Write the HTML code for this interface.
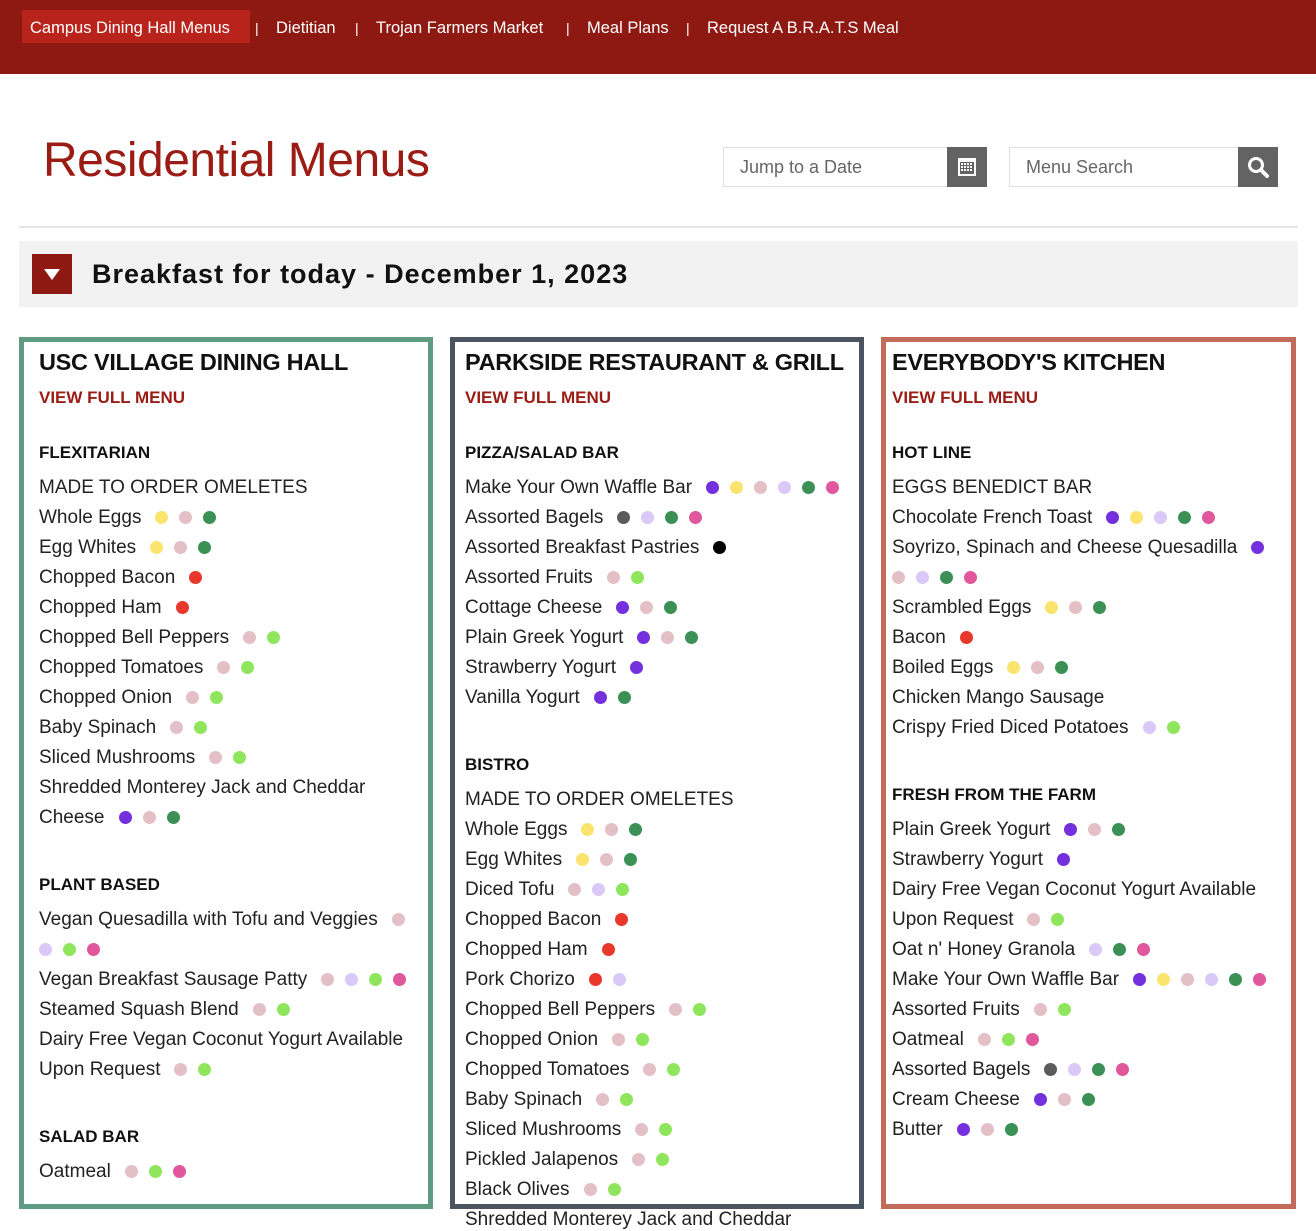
<!DOCTYPE html>
<html><head><meta charset="utf-8">
<style>
*{box-sizing:border-box;margin:0;padding:0}
body{width:1316px;height:1230px;overflow:hidden;background:#fff;font-family:"Liberation Sans",sans-serif;position:relative;color:#111}
.nav{position:absolute;left:0;top:0;width:1316px;height:74px;background:#8e1912}
.nav a{position:absolute;top:10px;height:33px;line-height:37px;color:#fff;font-size:16.5px;text-decoration:none;white-space:nowrap}
.sep{position:absolute;top:10px;line-height:37px;color:#fff;font-size:14px}
.title{position:absolute;left:43px;top:133px;font-size:48px;color:#9a1c14;font-weight:normal;letter-spacing:-0.5px}
.inp{position:absolute;top:147px;height:40px;border:1px solid #ddd;background:#fff;font-size:18px;color:#666;line-height:38px;padding-left:16px}
.btn{position:absolute;top:147px;width:40px;height:40px;background:#636363}
.hr{position:absolute;left:19px;top:226px;width:1279px;height:2px;background:#e3e3e3}
.band{position:absolute;left:19px;top:241px;width:1279px;height:66px;background:#f2f2f2}
.tog{position:absolute;left:32px;top:254px;width:40px;height:40px;background:#8e1912}
.tog:after{content:"";position:absolute;left:12px;top:15px;border-left:8px solid transparent;border-right:8px solid transparent;border-top:11px solid #fff}
.bh{position:absolute;left:92px;top:259px;font-size:27px;font-weight:bold;letter-spacing:1px;color:#111}
.col{position:absolute;top:337px;height:872px;border:5px solid}
.ln{position:absolute;white-space:nowrap;font-size:19px;color:#222;line-height:22px}
.ct{font-size:23.5px;font-weight:bold;color:#111;letter-spacing:-0.3px}
.vf{font-size:17px;font-weight:bold;color:#9a1c14}
.sh{font-size:17px;font-weight:bold;color:#111}
.dot{display:inline-block;width:13px;height:13px;border-radius:50%;margin-left:11px;vertical-align:-1px}
.dot:first-child{margin-left:14px}
</style></head><body>
<div class="nav">
<a style="left:22px;width:228px;background:#b8241c;padding-left:8px;line-height:33px;top:10px;padding-top:2px">Campus Dining Hall Menus</a>
<span class="sep" style="left:255px">|</span>
<a style="left:276px">Dietitian</a>
<span class="sep" style="left:355px">|</span>
<a style="left:376px">Trojan Farmers Market</a>
<span class="sep" style="left:566px">|</span>
<a style="left:587px">Meal Plans</a>
<span class="sep" style="left:686px">|</span>
<a style="left:707px">Request A B.R.A.T.S Meal</a>
</div>
<div class="title">Residential Menus</div>
<div class="inp" style="left:723px;width:264px">Jump to a Date</div>
<div class="btn" style="left:947px">
<svg width="40" height="40"><rect x="11" y="11" width="18" height="18" fill="#fff"/><rect x="13" y="15" width="14" height="12" fill="#636363"/><g fill="#fff"><rect x="14" y="16" width="2" height="2"/><rect x="17" y="16" width="2" height="2"/><rect x="20" y="16" width="2" height="2"/><rect x="23" y="16" width="2" height="2"/><rect x="14" y="19" width="2" height="2"/><rect x="17" y="19" width="2" height="2"/><rect x="20" y="19" width="2" height="2"/><rect x="23" y="19" width="2" height="2"/><rect x="14" y="22" width="2" height="2"/><rect x="17" y="22" width="2" height="2"/><rect x="20" y="22" width="2" height="2"/><rect x="23" y="22" width="2" height="2"/></g></svg></div>
<div class="inp" style="left:1009px;width:269px">Menu Search</div>
<div class="btn" style="left:1238px">
<svg width="40" height="40"><circle cx="18" cy="18" r="6.5" fill="none" stroke="#fff" stroke-width="3"/><line x1="23" y1="23" x2="29" y2="29" stroke="#fff" stroke-width="4" stroke-linecap="round"/></svg></div>
<div class="hr"></div>
<div class="band"></div>
<div class="tog"></div>
<div class="bh">Breakfast for today - December 1, 2023</div>
<div class="col" style="left:19px;width:414px;border-color:#5f9a82"></div>
<div class="col" style="left:450px;width:414px;border-color:#4a5561"></div>
<div class="col" style="left:881px;width:415px;border-color:#c26b5b"></div>
<script>
const C={P:'#7430dc',Y:'#fbe46e',S:'#e3bfc6',L:'#d9c8f8',N:'#3b9155',K:'#e0579b',R:'#e8382b',M:'#8fe65c',D:'#5b5b5b',B:'#000'};
const col1=[['t','USC VILLAGE DINING HALL'],['v','VIEW FULL MENU'],['h','FLEXITARIAN'],['i','MADE TO ORDER OMELETES',''],['i','Whole Eggs','YSN'],['i','Egg Whites','YSN'],['i','Chopped Bacon','R'],['i','Chopped Ham','R'],['i','Chopped Bell Peppers','SM'],['i','Chopped Tomatoes','SM'],['i','Chopped Onion','SM'],['i','Baby Spinach','SM'],['i','Sliced Mushrooms','SM'],['i','Shredded Monterey Jack and Cheddar',''],['i','Cheese','PSN'],['h','PLANT BASED'],['i','Vegan Quesadilla with Tofu and Veggies','S'],['w','','LMK'],['i','Vegan Breakfast Sausage Patty','SLMK'],['i','Steamed Squash Blend','SM'],['i','Dairy Free Vegan Coconut Yogurt Available',''],['i','Upon Request','SM'],['h','SALAD BAR'],['i','Oatmeal','SMK']];
const col2=[['t','PARKSIDE RESTAURANT & GRILL'],['v','VIEW FULL MENU'],['h','PIZZA/SALAD BAR'],['i','Make Your Own Waffle Bar','PYSLNK'],['i','Assorted Bagels','DLNK'],['i','Assorted Breakfast Pastries','B'],['i','Assorted Fruits','SM'],['i','Cottage Cheese','PSN'],['i','Plain Greek Yogurt','PSN'],['i','Strawberry Yogurt','P'],['i','Vanilla Yogurt','PN'],['h','BISTRO'],['i','MADE TO ORDER OMELETES',''],['i','Whole Eggs','YSN'],['i','Egg Whites','YSN'],['i','Diced Tofu','SLM'],['i','Chopped Bacon','R'],['i','Chopped Ham','R'],['i','Pork Chorizo','RL'],['i','Chopped Bell Peppers','SM'],['i','Chopped Onion','SM'],['i','Chopped Tomatoes','SM'],['i','Baby Spinach','SM'],['i','Sliced Mushrooms','SM'],['i','Pickled Jalapenos','SM'],['i','Black Olives','SM'],['i','Shredded Monterey Jack and Cheddar','']];
const col3=[['t',"EVERYBODY'S KITCHEN"],['v','VIEW FULL MENU'],['h','HOT LINE'],['i','EGGS BENEDICT BAR',''],['i','Chocolate French Toast','PYLNK'],['i','Soyrizo, Spinach and Cheese Quesadilla','P'],['w','','SLNK'],['i','Scrambled Eggs','YSN'],['i','Bacon','R'],['i','Boiled Eggs','YSN'],['i','Chicken Mango Sausage',''],['i','Crispy Fried Diced Potatoes','LM'],['h','FRESH FROM THE FARM'],['i','Plain Greek Yogurt','PSN'],['i','Strawberry Yogurt','P'],['i','Dairy Free Vegan Coconut Yogurt Available',''],['i','Upon Request','SM'],['i',"Oat n' Honey Granola",'LNK'],['i','Make Your Own Waffle Bar','PYSLNK'],['i','Assorted Fruits','SM'],['i','Oatmeal','SMK'],['i','Assorted Bagels','DLNK'],['i','Cream Cheese','PSN'],['i','Butter','PSN']];
function render(list,x){
  let y=0,prev=null;
  list.forEach(e=>{
    const [k,text,dots]=e;
    if(k==='t')y=361;else if(k==='v')y=397;
    else if(k==='h')y=(prev==='v')?452:y+67;
    else y=(prev==='h')?y+35:y+30;
    prev=k;
    const d=document.createElement('div');
    
    
    d.className='ln'+(k==='t'?' ct':k==='v'?' vf':k==='h'?' sh':'');
    d.style.left=(k==='w'?x-14:x)+'px';
    d.style.top=(y-10)+'px';
    d.appendChild(document.createTextNode(text));
    if(dots)for(const c of dots){
      const s=document.createElement('span');
      
      
      s.className='dot';s.style.background=C[c];d.appendChild(s);
    }
    document.body.appendChild(d);
  });
}
render(col1,39);render(col2,465);render(col3,892);
</script>
</body></html>
